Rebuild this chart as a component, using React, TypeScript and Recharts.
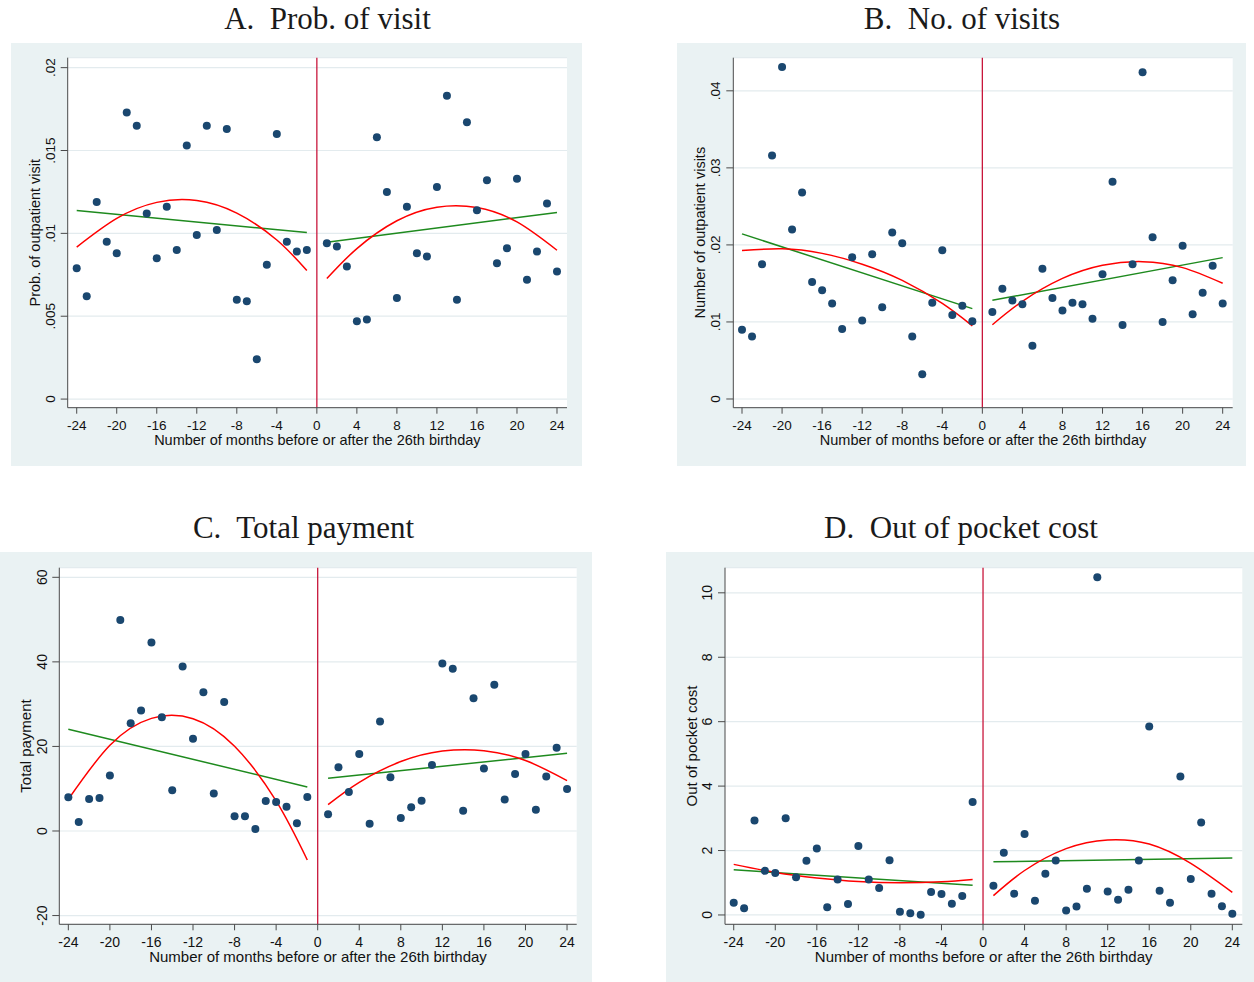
import React from "react";
import {
  ComposedChart,
  Scatter,
  Line,
  XAxis,
  YAxis,
  CartesianGrid,
  ReferenceLine,
} from "recharts";

// months relative to the 26th birthday
const monthsPre = [-24, -23, -22, -21, -20, -19, -18, -17, -16, -15, -14, -13, -12, -11, -10, -9, -8, -7, -6, -5, -4, -3, -2, -1];
const monthsPost = [1, 2, 3, 4, 5, 6, 7, 8, 9, 10, 11, 12, 13, 14, 15, 16, 17, 18, 19, 20, 21, 22, 23, 24];
const linXPre = [-24, -1];
const linXPost = [1, 24];
const quadXPre = [-24, -20, -16, -12, -8, -4, -1];
const quadXPost = [1, 4, 8, 12, 16, 20, 24];
const xTicks = [-24, -20, -16, -12, -8, -4, 0, 4, 8, 12, 16, 20, 24];

// A. Prob. of visit
const probPre = [0.0079, 0.0062, 0.0119, 0.0095, 0.0088, 0.0173, 0.0165, 0.0112, 0.0085, 0.0116, 0.009, 0.0153, 0.0099, 0.0165, 0.0102, 0.0163, 0.006, 0.0059, 0.0024, 0.0081, 0.016, 0.0095, 0.0089, 0.009];
const probPost = [0.0094, 0.0092, 0.008, 0.0047, 0.0048, 0.0158, 0.0125, 0.0061, 0.0116, 0.0088, 0.0086, 0.0128, 0.0183, 0.006, 0.0167, 0.0114, 0.0132, 0.0082, 0.0091, 0.0133, 0.0072, 0.0089, 0.0118, 0.0077];
const probLinPre = [0.01138, 0.01005];
const probLinPost = [0.00947, 0.01126];
const probQuadPre = [0.00917, 0.0109, 0.01187, 0.01198, 0.01122, 0.0096, 0.00776];
const probQuadPost = [0.00727, 0.00908, 0.01076, 0.01158, 0.01156, 0.01069, 0.00898];
const probTicks = [0, 0.005, 0.01, 0.015, 0.02];

// B. No. of visits
const visitsPre = [0.009, 0.0081, 0.0175, 0.0316, 0.0431, 0.022, 0.0268, 0.0152, 0.0141, 0.0124, 0.0091, 0.0184, 0.0102, 0.0188, 0.0119, 0.0216, 0.0202, 0.0081, 0.0032, 0.0125, 0.0193, 0.0109, 0.0121, 0.0101];
const visitsPost = [0.0113, 0.0143, 0.0128, 0.0123, 0.0069, 0.0169, 0.0131, 0.0115, 0.0125, 0.0123, 0.0104, 0.0162, 0.0282, 0.0096, 0.0175, 0.0424, 0.021, 0.01, 0.0154, 0.0199, 0.011, 0.0138, 0.0173, 0.0124];
const visitsLinPre = [0.02143, 0.01173];
const visitsLinPost = [0.01281, 0.01835];
const visitsQuadPre = [0.01926, 0.0195, 0.0189, 0.0175, 0.0154, 0.0124, 0.0095];
const visitsQuadPost = [0.00964, 0.01268, 0.01565, 0.01736, 0.01783, 0.01705, 0.01502];
const visitsTicks = [0, 0.01, 0.02, 0.03, 0.04];

// C. Total payment
const payPre = [7.97, 2.13, 7.58, 7.81, 13.1, 49.9, 25.5, 28.5, 44.6, 26.9, 9.63, 38.9, 21.8, 32.8, 8.84, 30.5, 3.47, 3.47, 0.47, 7.1, 6.87, 5.76, 1.82, 8.05];
const payPost = [3.95, 15.1, 9.23, 18.2, 1.74, 25.9, 12.7, 3.08, 5.6, 7.18, 15.6, 39.6, 38.4, 4.81, 31.4, 14.8, 34.6, 7.42, 13.5, 18.2, 5.05, 12.9, 19.7, 9.94];
const payLinPre = [24.07, 10.42];
const payLinPost = [12.47, 18.39];
const payQuadPre = [7.5, 20.28, 26.64, 26.56, 20.04, 7.1, -6.87];
const payQuadPost = [6.24, 11.51, 16.42, 18.91, 19.0, 16.67, 11.92];
const payTicks = [-20, 0, 20, 40, 60];

// D. Out of pocket cost
const oopPre = [0.38, 0.21, 2.93, 1.37, 1.3, 3.0, 1.17, 1.68, 2.06, 0.24, 1.1, 0.34, 2.14, 1.1, 0.84, 1.7, 0.1, 0.05, 0.01, 0.71, 0.65, 0.35, 0.59, 3.51];
const oopPost = [0.91, 1.93, 0.66, 2.51, 0.44, 1.28, 1.69, 0.14, 0.26, 0.81, 10.48, 0.73, 0.47, 0.78, 1.69, 5.85, 0.75, 0.38, 4.3, 1.12, 2.87, 0.66, 0.27, 0.04];
const oopLinPre = [1.4, 0.92];
const oopLinPost = [1.65, 1.77];
const oopQuadPre = [1.57, 1.32, 1.15, 1.04, 1.0, 1.03, 1.1];
const oopQuadPost = [0.6, 1.38, 2.06, 2.33, 2.2, 1.6, 0.7];
const oopTicks = [0, 2, 4, 6, 8, 10];

const BG = "#eaf2f3";
const GRID = "#e3ebee";
const NAVY = "#1a476f";
const GREEN = "#1e8a1e";
const RED = "#ff0000";
const CUTOFF = "#c8173c";
const AXIS = "#4a4a4a";
const SANS = '"Liberation Sans", Arial, sans-serif';
const SERIF = '"Liberation Serif", "DejaVu Serif", serif';
const X_TITLE = "Number of months before or after the 26th birthday";

const pts = (xs: number[], ys: number[]) => xs.map((x, i) => ({ x, y: ys[i] }));
const fmtShare = (v: number) => (v === 0 ? "0" : String(v).replace(/^0\./, "."));

type PanelDef = {
  title: string;
  titleX: number;
  titleTop: number;
  bg: number[];
  plot: number[];
  xDomain: number[];
  yDomain: number[];
  yTicks: number[];
  yFmt: (v: number) => string;
  yTitle: string;
  yTitleX: number;
  font: number;
  pre: number[];
  post: number[];
  linPre: number[];
  linPost: number[];
  quadPre: number[];
  quadPost: number[];
};

const panels: PanelDef[] = [
  {
    title: "A.  Prob. of visit", titleX: 327.5, titleTop: 3,
    bg: [11, 43, 582, 466], plot: [67.7, 57.7, 567, 407.7],
    xDomain: [-24.9, 25.0], yDomain: [-0.00052, 0.0206], yTicks: probTicks, yFmt: fmtShare,
    yTitle: "Prob. of outpatient visit", yTitleX: 35, font: 14.5,
    pre: probPre, post: probPost, linPre: probLinPre, linPost: probLinPost, quadPre: probQuadPre, quadPost: probQuadPost,
  },
  {
    title: "B.  No. of visits", titleX: 962, titleTop: 3,
    bg: [677, 43, 1246, 466], plot: [733.3, 57.7, 1232.7, 407.7],
    xDomain: [-24.87, 25.0], yDomain: [-0.00113, 0.0443], yTicks: visitsTicks, yFmt: fmtShare,
    yTitle: "Number of outpatient visits", yTitleX: 700, font: 14.5,
    pre: visitsPre, post: visitsPost, linPre: visitsLinPre, linPost: visitsLinPost, quadPre: visitsQuadPre, quadPost: visitsQuadPost,
  },
  {
    title: "C.  Total payment", titleX: 303.5, titleTop: 512,
    bg: [0, 552, 592, 982], plot: [59.3, 567.7, 576.7, 924.3],
    xDomain: [-24.87, 24.93], yDomain: [-22.07, 62.27], yTicks: payTicks, yFmt: (v) => String(v),
    yTitle: "Total payment", yTitleX: 25, font: 15,
    pre: payPre, post: payPost, linPre: payLinPre, linPost: payLinPost, quadPre: payQuadPre, quadPost: payQuadPost,
  },
  {
    title: "D.  Out of pocket cost", titleX: 961, titleTop: 512,
    bg: [666, 552, 1254, 982], plot: [725, 567.7, 1242.3, 924.3],
    xDomain: [-24.84, 24.96], yDomain: [-0.29, 10.78], yTicks: oopTicks, yFmt: (v) => String(v),
    yTitle: "Out of pocket cost", yTitleX: 691, font: 15,
    pre: oopPre, post: oopPost, linPre: oopLinPre, linPost: oopLinPost, quadPre: oopQuadPre, quadPost: oopQuadPost,
  },
];

const Dot = (props: any) => <circle cx={props.cx} cy={props.cy} r={4} fill={NAVY} />;

function Panel({ p }: { p: PanelDef }) {
  const [bx0, by0, bx1, by1] = p.bg;
  const [px0, py0, px1, py1] = p.plot;
  const w = bx1 - bx0;
  const h = by1 - by0;
  const ml = px0 - bx0;
  const mt = py0 - by0;
  const mr = bx1 - px1;
  const mb = by1 - py1;
  const plotW = px1 - px0;
  const plotH = py1 - py0;
  const tickFont = p.font - 1;

  const YTick = (t: any) => {
    const x = ml - 17.5;
    return (
      <text
        x={x}
        y={t.y}
        transform={`rotate(-90 ${x} ${t.y})`}
        textAnchor="middle"
        dominantBaseline="central"
        fontSize={tickFont}
        fontFamily={SANS}
        fill="#111"
      >
        {p.yFmt(t.payload.value)}
      </text>
    );
  };

  const XTitle = () => (
    <text x={ml + plotW / 2} y={mt + plotH + 37.5} textAnchor="middle" fontSize={p.font} fontFamily={SANS} fill="#111">
      {X_TITLE}
    </text>
  );

  const YTitle = () => {
    const x = p.yTitleX - bx0;
    const y = mt + plotH / 2;
    return (
      <text
        x={x}
        y={y}
        transform={`rotate(-90 ${x} ${y})`}
        textAnchor="middle"
        dominantBaseline="central"
        fontSize={p.font}
        fontFamily={SANS}
        fill="#111"
      >
        {p.yTitle}
      </text>
    );
  };

  return (
    <>
      <div
        style={{
          position: "absolute",
          left: p.titleX - 250,
          top: p.titleTop,
          width: 500,
          textAlign: "center",
          fontFamily: SERIF,
          fontSize: 31,
          lineHeight: "32px",
          whiteSpace: "pre",
          color: "#1a1a1a",
        }}
      >
        {p.title}
      </div>
      <div style={{ position: "absolute", left: bx0, top: by0, width: w, height: h, background: BG }}>
        <ComposedChart width={w} height={h} margin={{ top: mt, right: mr, bottom: 0, left: 0 }}>
          <CartesianGrid vertical={false} stroke={GRID} strokeWidth={1.2} fill="#ffffff" />
          <XAxis
            type="number"
            dataKey="x"
            domain={p.xDomain}
            ticks={xTicks}
            interval={0}
            allowDataOverflow
            height={mb}
            tickSize={6}
            tickMargin={7}
            stroke={AXIS}
            tick={{ fill: "#111", fontSize: tickFont, fontFamily: SANS }}
            label={<XTitle />}
          />
          <YAxis
            type="number"
            dataKey="y"
            domain={p.yDomain}
            ticks={p.yTicks}
            interval={0}
            allowDataOverflow
            width={ml}
            tickSize={7}
            stroke={AXIS}
            tick={YTick}
            label={<YTitle />}
          />
          <ReferenceLine x={0} stroke={CUTOFF} strokeWidth={1.3} />
          <Scatter data={pts(monthsPre, p.pre)} shape={Dot} isAnimationActive={false} />
          <Scatter data={pts(monthsPost, p.post)} shape={Dot} isAnimationActive={false} />
          <Line data={pts(linXPre, p.linPre)} dataKey="y" type="linear" stroke={GREEN} strokeWidth={1.5} dot={false} activeDot={false} isAnimationActive={false} />
          <Line data={pts(linXPost, p.linPost)} dataKey="y" type="linear" stroke={GREEN} strokeWidth={1.5} dot={false} activeDot={false} isAnimationActive={false} />
          <Line data={pts(quadXPre, p.quadPre)} dataKey="y" type="natural" stroke={RED} strokeWidth={1.5} dot={false} activeDot={false} isAnimationActive={false} />
          <Line data={pts(quadXPost, p.quadPost)} dataKey="y" type="natural" stroke={RED} strokeWidth={1.5} dot={false} activeDot={false} isAnimationActive={false} />
        </ComposedChart>
      </div>
    </>
  );
}

export default function App() {
  return (
    <div style={{ position: "absolute", left: 0, top: 0, width: 1254, height: 982, background: "#fff" }}>
      {panels.map((p) => (
        <Panel key={p.title} p={p} />
      ))}
    </div>
  );
}
